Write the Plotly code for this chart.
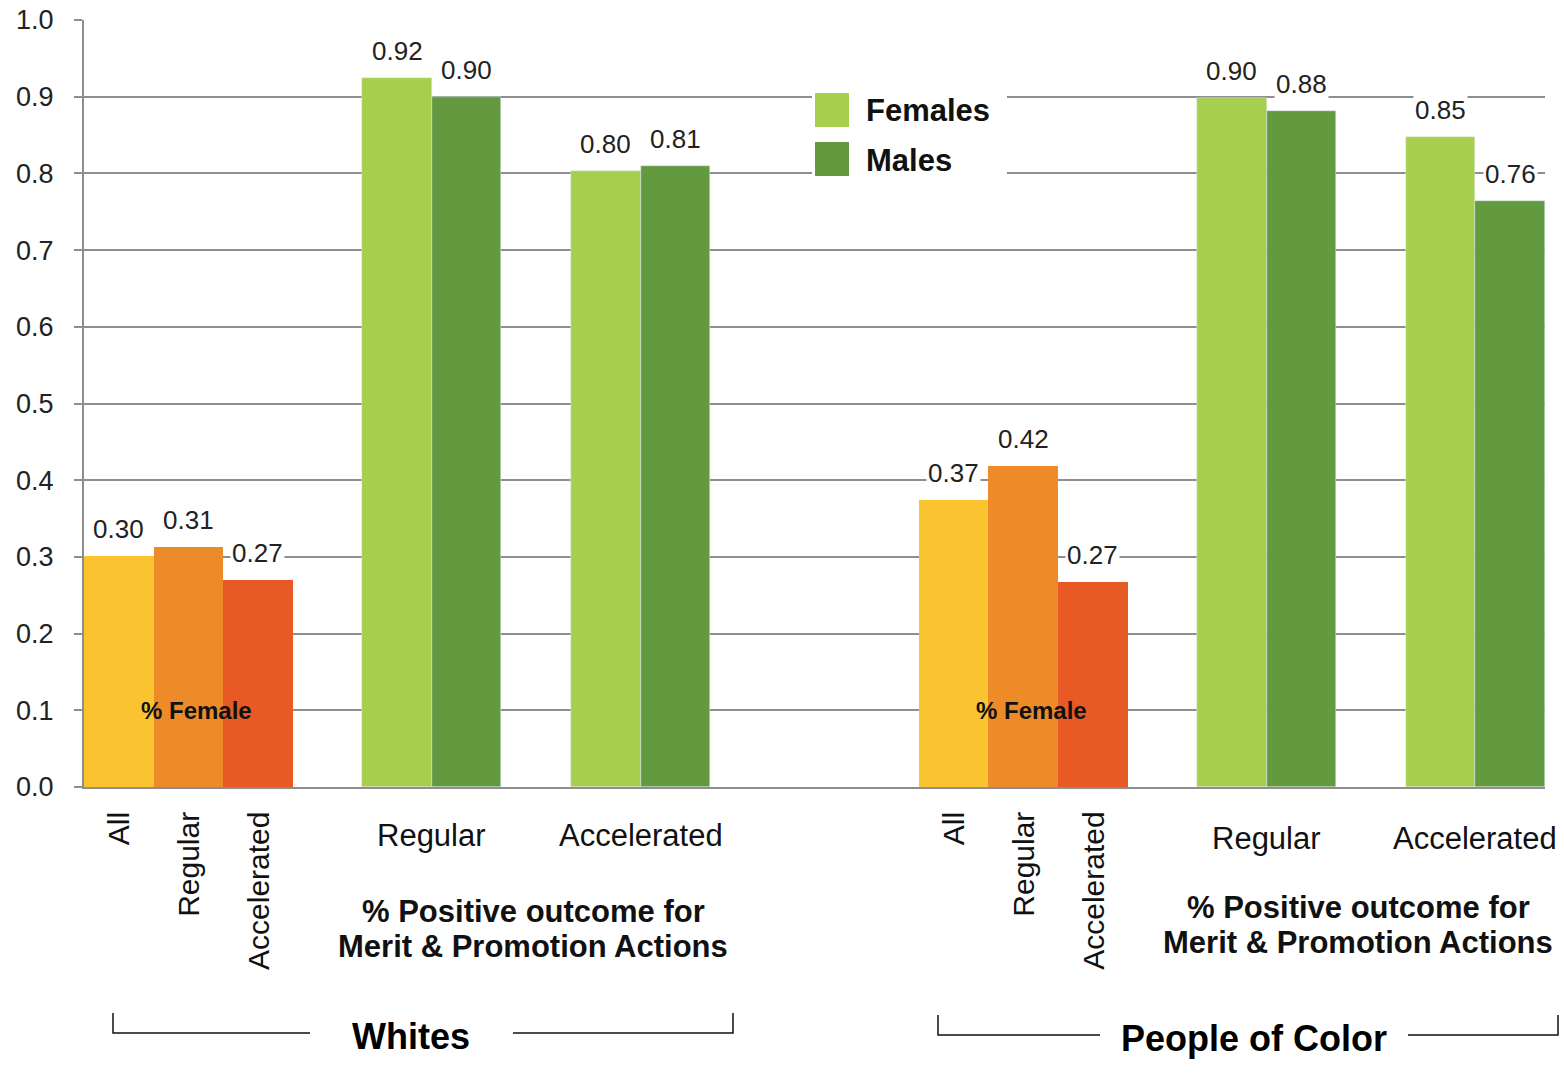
import plotly.graph_objects as go

# ---------------- data ----------------
races = ["Whites", "People of Color"]
female_cats = ["All", "Regular", "Accelerated"]
female_share = {
    "Whites": [0.301, 0.313, 0.270],
    "People of Color": [0.374, 0.418, 0.267],
}
outcome_cats = ["Regular", "Accelerated"]
females_positive = {
    "Whites": [0.924, 0.803],
    "People of Color": [0.898, 0.847],
}
males_positive = {
    "Whites": [0.900, 0.810],
    "People of Color": [0.881, 0.764],
}
y_ticks = [0.0, 0.1, 0.2, 0.3, 0.4, 0.5, 0.6, 0.7, 0.8, 0.9, 1.0]

# ---------------- styling ----------------
FONT = "Liberation Sans, Arial, Helvetica, sans-serif"
share_colors = ["#F9C42F", "#EE8B29", "#E85A25"]
female_color = "#A7CF4D"
male_color = "#63993F"
grid_color = "#8E8E8E"

W, H = 1564, 1081
ML, MR, MT, MB = 84, 19, 20, 294
PW, PH = W - ML - MR, H - MT - MB

def px_x(x):
    return (x - ML) / PW

def px_y(y):
    return (H - MB - y) / PH

# slot layout: 3 share bars, gap, 2 bars, gap, 2 bars ; gap of 3 between races
BLOCK = 3 + 1 + 2 + 1 + 2
RACE_GAP = 3
TOTAL = 2 * BLOCK + RACE_GAP

fig = go.Figure()
annotations = []

def value_label(x, v):
    return dict(x=x, y=v, text=f"{v:.2f}", showarrow=False, xanchor="center", yanchor="middle",
                yshift=27, bgcolor="white", borderpad=1,
                font=dict(size=26, color="#222", family=FONT))

for r, race in enumerate(races):
    start = r * (BLOCK + RACE_GAP)
    sx = [start + i + 0.5 for i in range(len(female_cats))]
    vals = female_share[race]
    fig.add_trace(go.Bar(x=sx, y=vals, width=1, marker=dict(color=share_colors, line=dict(width=0)),
                         name="% Female " + race, showlegend=False))
    for x, v in zip(sx, vals):
        annotations.append(value_label(x, v))
    for x, c in zip(sx, female_cats):
        annotations.append(dict(x=x, y=px_y(810), yref="paper", text=c, textangle=-90,
                                showarrow=False, xanchor="center", yanchor="top",
                                font=dict(size=30, color="#111", family=FONT)))
    annotations.append(dict(x=start + 1.5, y=0.1, text="<b>% Female</b>", showarrow=False,
                            xanchor="center", yanchor="middle", xshift=8,
                            font=dict(size=24, color="#111", family=FONT)))

    fx, mx, cx = [], [], []
    for j, cat in enumerate(outcome_cats):
        g = start + 4 + 3 * j
        fx.append(g + 0.5)
        mx.append(g + 1.5)
        cx.append(g + 1)
    fig.add_trace(go.Bar(x=fx, y=females_positive[race], width=1, marker=dict(color=female_color),
                         name="Females", showlegend=False))
    fig.add_trace(go.Bar(x=mx, y=males_positive[race], width=1, marker=dict(color=male_color),
                         name="Males", showlegend=False))
    for xs, vs in ((fx, females_positive[race]), (mx, males_positive[race])):
        for x, v in zip(xs, vs):
            annotations.append(value_label(x, v))
    label_y = 835 if r == 0 else 838
    for x, c in zip(cx, outcome_cats):
        annotations.append(dict(x=x, y=px_y(label_y), yref="paper", text=c, showarrow=False,
                                xanchor="center", yanchor="middle",
                                font=dict(size=31, color="#111", family=FONT)))

# group titles
title_specs = [(533, 911, 946), (1358, 908, 943)]
for (tx, y1, y2) in title_specs:
    annotations.append(dict(x=px_x(tx), y=px_y(y1), xref="paper", yref="paper",
                            text="<b>% Positive outcome for</b>", showarrow=False,
                            xanchor="center", yanchor="middle",
                            font=dict(size=31, color="#111", family=FONT)))
    annotations.append(dict(x=px_x(tx), y=px_y(y2), xref="paper", yref="paper",
                            text="<b>Merit & Promotion Actions</b>", showarrow=False,
                            xanchor="center", yanchor="middle",
                            font=dict(size=31, color="#111", family=FONT)))

# race labels + brackets
race_label_pos = [(411, 1036), (1254, 1038)]
brackets = [(113, 310, 513, 733, 1013, 1033), (938, 1100, 1408, 1558, 1015, 1035)]
shapes = []
for race, (lx, ly), (bl, g1, g2, br, bt, bb) in zip(races, race_label_pos, brackets):
    annotations.append(dict(x=px_x(lx), y=px_y(ly), xref="paper", yref="paper",
                            text=f"<b>{race}</b>", showarrow=False,
                            xanchor="center", yanchor="middle",
                            font=dict(size=36, color="#000", family=FONT)))
    path = (f"M {px_x(bl)} {px_y(bt)} L {px_x(bl)} {px_y(bb)} L {px_x(g1)} {px_y(bb)}")
    shapes.append(dict(type="path", xref="paper", yref="paper", path=path,
                       line=dict(color="#111", width=1.5)))
    path = (f"M {px_x(g2)} {px_y(bb)} L {px_x(br)} {px_y(bb)} L {px_x(br)} {px_y(bt)}")
    shapes.append(dict(type="path", xref="paper", yref="paper", path=path,
                       line=dict(color="#111", width=1.5)))

# legend (drawn manually for large swatches)
shapes.append(dict(type="rect", xref="paper", yref="paper", x0=px_x(812), x1=px_x(1007),
                   y0=px_y(184), y1=px_y(88), fillcolor="white", line=dict(width=0), layer="above"))
for name, color, top, ty in (("Females", female_color, 93, 110), ("Males", male_color, 142, 160)):
    shapes.append(dict(type="rect", xref="paper", yref="paper", x0=px_x(815), x1=px_x(849),
                       y0=px_y(top + 34), y1=px_y(top), fillcolor=color, line=dict(width=0),
                       layer="above"))
    annotations.append(dict(x=px_x(864), y=px_y(ty), xref="paper", yref="paper",
                            text=f"<b>{name}</b>", showarrow=False, xanchor="left",
                            yanchor="middle",
                            font=dict(size=31, color="#111", family=FONT)))

fig.update_layout(
    width=W, height=H,
    margin=dict(l=ML, r=MR, t=MT, b=MB, pad=0, autoexpand=False),
    paper_bgcolor="white", plot_bgcolor="white",
    barmode="overlay", bargap=0,
    font=dict(family=FONT, color="#222"),
    annotations=annotations,
    shapes=shapes,
    xaxis=dict(range=[0, TOTAL], showgrid=False, zeroline=False, showticklabels=False,
               automargin=False,
               ticks="", showline=True, linecolor=grid_color, linewidth=2, fixedrange=True),
    yaxis=dict(range=[0, 1.0], tickvals=y_ticks, ticktext=[f"{v:.1f}" for v in y_ticks],
               automargin=False,
               showgrid=True, gridcolor=grid_color, gridwidth=2, zeroline=False,
               showline=True, linecolor=grid_color, linewidth=2,
               ticks="outside", ticklen=8, tickwidth=2, tickcolor=grid_color,
               ticklabelstandoff=15,
               tickfont=dict(size=27, color="#222", family=FONT), fixedrange=True),
)

fig.write_html("out.html", config={"displayModeBar": False},
               post_script="document.body.style.margin='0';document.body.style.overflow='hidden';")
